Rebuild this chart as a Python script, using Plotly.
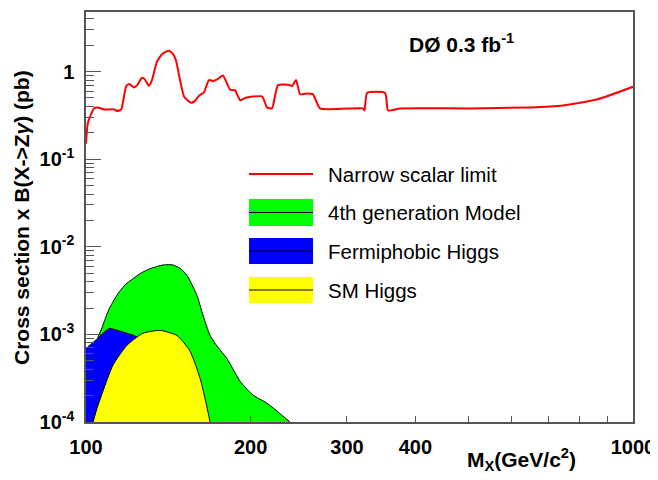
import plotly.graph_objects as go

# ---- data ----
mass_limit = [100, 100.8, 103.4, 105, 108, 112.5, 114, 116, 118.4, 120, 122.4, 124, 126.6, 128,
              130.3, 132, 134.8, 138, 141.8, 144, 146, 148, 151.1, 155.6, 158, 160.9, 164.3,
              167.8, 171, 174, 178, 183.4, 187.3, 191.3, 195.3, 209.8, 214.2, 218.8, 224.4,
              236, 238, 242.1, 246.3, 252, 260, 267.8, 321, 323, 326.5, 352.2, 356.6, 375,
              500, 648, 745, 859, 1000]
xs_limit = [0.15, 0.26, 0.38, 0.39, 0.37, 0.37, 0.355, 0.37, 0.68, 0.72, 0.66, 0.70, 0.85, 0.82,
            0.69, 0.80, 1.30, 1.60, 1.73, 1.60, 1.35, 0.90, 0.52, 0.44, 0.46, 0.53, 0.58,
            0.80, 0.78, 0.82, 0.90, 0.62, 0.61, 0.47, 0.50, 0.52, 0.39, 0.38, 0.70,
            0.70, 0.68, 0.80, 0.55, 0.56, 0.55, 0.38, 0.38, 0.36, 0.57, 0.57, 0.36, 0.38,
            0.38, 0.39, 0.41, 0.48, 0.67]

mass_4g = [100, 103, 105, 107, 110, 113.9, 117.5, 121.9, 126, 130.9, 138.3, 144.3, 149, 153.0,
           159.6, 163.7, 168.6, 174, 181.0, 191.3, 202.0, 214.2, 236.0]
xs_4g = [3e-4, 6e-4, 9e-4, 1.2e-3, 1.9e-3, 2.8e-3, 3.6e-3, 4.33e-3, 5.0e-3, 5.62e-3, 6.2e-3,
         6.2e-3, 5.6e-3, 4.7e-3, 2.77e-3, 1.64e-3, 9.7e-4, 7.2e-4, 5.3e-4, 2.92e-4, 2.03e-4,
         1.64e-4, 1e-4]

mass_fp = [100, 105, 110.2, 116, 123.4, 130, 140, 150, 160]
xs_fp = [6.9e-4, 9.0e-4, 1.17e-3, 1.08e-3, 9.5e-4, 7e-4, 4e-4, 2e-4, 1e-4]

mass_sm = [103.0, 105, 107.4, 112.0, 118.8, 127.1, 136.5, 146.7, 155.0, 161.6, 165.0, 168.6]
xs_sm = [1e-4, 1.5e-4, 2.25e-4, 4.44e-4, 7.5e-4, 1.03e-3, 1.11e-3, 9.7e-4, 6.4e-4, 3.16e-4,
         1.87e-4, 1e-4]

x_tickvals = [100, 200, 300, 400, 1000]
x_ticktext = ["100", "200", "300", "400", "1000"]
x_minor = [500, 600, 700, 800, 900]
y_tickvals = [1e-4, 1e-3, 1e-2, 1e-1, 1]
y_ticktext = ["10<sup>-4</sup>", "10<sup>-3</sup>", "10<sup>-2</sup>", "10<sup>-1</sup>", "1"]
y_minor = [m * 10.0 ** e for e in range(-4, 1) for m in range(2, 10) if m * 10.0 ** e < 4.9]

legend_labels = ["Narrow scalar limit", "4th generation Model", "Fermiphobic Higgs", "SM Higgs"]

FONT = "Liberation Sans, Arial, Helvetica, sans-serif"
FRAME = "#555555"

fig = go.Figure()
fig.add_trace(go.Scatter(x=mass_4g, y=xs_4g, mode="lines", fill="tozeroy",
                         fillcolor="#00ff00", line=dict(color="black", width=1, shape="spline", smoothing=0.6),
                         showlegend=False, hoverinfo="skip"))
fig.add_trace(go.Scatter(x=mass_fp, y=xs_fp, mode="lines", fill="tozeroy",
                         fillcolor="#0000ff", line=dict(color="black", width=1, shape="spline", smoothing=0.4),
                         showlegend=False, hoverinfo="skip"))
fig.add_trace(go.Scatter(x=mass_sm, y=xs_sm, mode="lines", fill="tozeroy",
                         fillcolor="#ffff00", line=dict(color="black", width=1, shape="spline", smoothing=0.6),
                         showlegend=False, hoverinfo="skip"))
fig.add_trace(go.Scatter(x=mass_limit, y=xs_limit, mode="lines",
                         line=dict(color="#ff0000", width=2, shape="spline", smoothing=0.5),
                         showlegend=False, hoverinfo="skip"))

# The page body adds an 8px margin, so the figure is 8px smaller and
# positions below are given in screenshot pixels of the plot area (86..633, 12..422).
def px2x(p):
    return (p - 86) / 547.0

def px2y(p):
    return (422 - p) / 410.0

x0, x1 = px2x(249), px2x(313)
fig.add_shape(type="line", xref="paper", yref="paper", x0=x0, x1=x1, y0=px2y(174), y1=px2y(174),
              line=dict(color="#ff0000", width=2))
boxes = [("#00ff00", 199, 226), ("#0000ff", 238, 264), ("#ffff00", 277, 303)]
for col, top, bot in boxes:
    fig.add_shape(type="rect", xref="paper", yref="paper", x0=x0, x1=x1, y0=px2y(bot), y1=px2y(top),
                  fillcolor=col, line=dict(width=0))
    mid = px2y((top + bot) / 2)
    fig.add_shape(type="line", xref="paper", yref="paper", x0=x0, x1=x1, y0=mid, y1=mid,
                  line=dict(color="black", width=1))
for lab, cy in zip(legend_labels, [174, 212.5, 251, 290]):
    fig.add_annotation(xref="paper", yref="paper", x=px2x(326), y=px2y(cy), text=lab,
                       showarrow=False, xanchor="left", yanchor="middle",
                       font=dict(family=FONT, size=20.5, color="black"))

fig.add_annotation(xref="paper", yref="paper", x=px2x(461), y=px2y(43),
                   text="DØ 0.3 fb<sup>-1</sup>", showarrow=False, xanchor="center", yanchor="middle",
                   font=dict(family=FONT, size=21, color="black", weight="bold"))
fig.add_annotation(xref="paper", yref="paper", x=px2x(21), y=px2y(218),
                   text="Cross section x B(X->Z<i>γ</i>) (pb)", textangle=-90, showarrow=False,
                   xanchor="center", yanchor="middle",
                   font=dict(family=FONT, size=21, color="black", weight="bold"))
fig.add_annotation(xref="paper", yref="paper", x=px2x(521), y=px2y(459),
                   text="M<sub>X</sub>(GeV/c<sup>2</sup>)", showarrow=False,
                   xanchor="center", yanchor="middle",
                   font=dict(family=FONT, size=21, color="black", weight="bold"))

fig.update_layout(
    width=650, height=472,
    margin=dict(l=78, r=25, t=4, b=58, autoexpand=False),
    paper_bgcolor="white", plot_bgcolor="white",
    font=dict(family=FONT, color="black"),
    showlegend=False,
    xaxis=dict(type="log", range=[2, 3], tickmode="array", tickvals=x_tickvals, ticktext=x_ticktext,
               ticks="inside", ticklen=6, tickwidth=1, tickcolor=FRAME,
               minor=dict(tickmode="array", tickvals=x_minor, ticks="inside", ticklen=6,
                          tickcolor=FRAME, tickwidth=1, showgrid=False),
               showgrid=False, zeroline=False, showline=True, linecolor=FRAME, linewidth=1.5,
               mirror=True, ticklabelstandoff=6, automargin=False,
               tickfont=dict(family=FONT, size=20, color="black", weight="bold")),
    yaxis=dict(type="log", range=[-4, 0.68], tickmode="array", tickvals=y_tickvals, ticktext=y_ticktext,
               ticks="inside", ticklen=15, tickwidth=1, tickcolor=FRAME,
               minor=dict(tickmode="array", tickvals=y_minor, ticks="inside", ticklen=8,
                          tickcolor=FRAME, tickwidth=1, showgrid=False),
               showgrid=False, zeroline=False, showline=True, linecolor=FRAME, linewidth=1.5,
               mirror=True, ticklabelstandoff=6, automargin=False,
               tickfont=dict(family=FONT, size=20, color="black", weight="bold")),
)

fig.write_html("out.html")
